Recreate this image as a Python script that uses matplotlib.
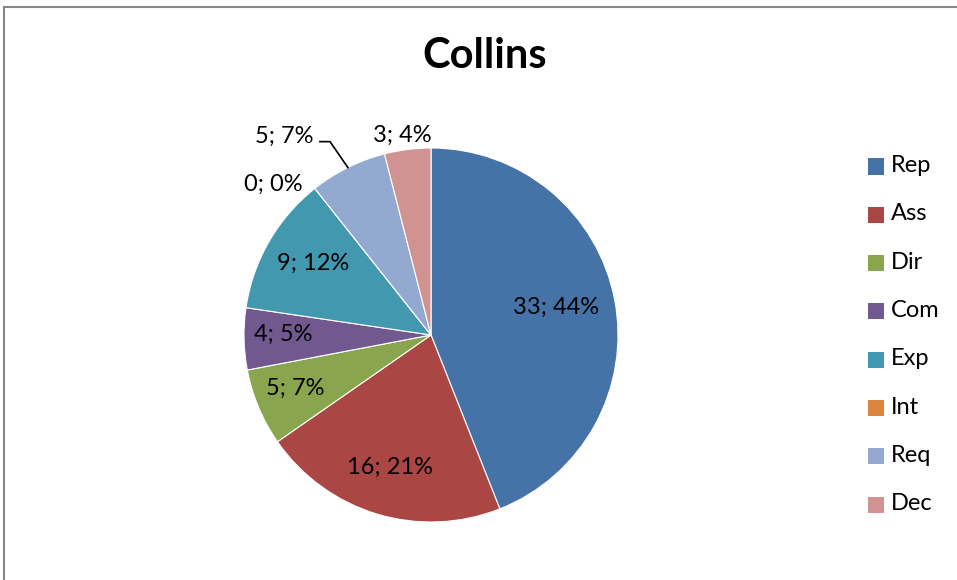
import numpy as np
import matplotlib
matplotlib.use("Agg")
import matplotlib.pyplot as plt
from matplotlib.patches import Rectangle
from matplotlib.lines import Line2D

plt.rcParams['font.family'] = ['Lato', 'DejaVu Sans']

title = "Collins"
categories = ["Rep", "Ass", "Dir", "Com", "Exp", "Int", "Req", "Dec"]
counts = [33, 16, 5, 4, 9, 0, 5, 3]
percents = [44, 21, 7, 5, 12, 0, 7, 4]
colors = ["#4572A7", "#AA4643", "#89A54E", "#71588F",
          "#4198AF", "#DB843D", "#93A9CF", "#D19392"]

W, H = 957, 580
fig = plt.figure(figsize=(W / 100, H / 100), dpi=100)

# pie placed by pixel geometry: centre (431, 335), radius 187
cx, cy, R = 431, 335, 187
ax = fig.add_axes([(cx - R) / W, (H - cy - R) / H, 2 * R / W, 2 * R / H])
wedges, _ = ax.pie(counts, colors=colors, startangle=90, counterclock=False,
                   radius=1.0, wedgeprops=dict(edgecolor="white", linewidth=0.8))
ax.set_xlim(-1, 1)
ax.set_ylim(-1, 1)
ax.set_aspect("equal")
ax.axis("off")

labels = [f"{c}; {p}%" for c, p in zip(counts, percents)]
FS = 17

# inside labels: distance from centre along the slice bisector
inside_dist = {0: 0.68, 1: 0.76, 2: 0.785, 3: 0.79, 4: 0.73}
# outside labels: text position in pie units
outside_pos = {5: (-0.842, 0.805), 6: (-0.783, 1.062), 7: (-0.155, 1.068)}

total = sum(counts)
start = 90.0
for i, c in enumerate(counts):
    sweep = 360.0 * c / total
    mid = np.deg2rad(start - sweep / 2)
    start -= sweep
    if i in inside_dist:
        d = inside_dist[i]
        ax.text(d * np.cos(mid), d * np.sin(mid) + 0.02, labels[i], ha="center",
                va="center", fontsize=FS, color="black")
    else:
        tx, ty = outside_pos[i]
        ax.text(tx, ty, labels[i], ha="center", va="center",
                fontsize=FS, color="black", clip_on=False)
        if i == 6:
            # leader line from label to the slice's outer edge
            ex, ey = np.cos(mid), np.sin(mid)
            ax.add_line(Line2D([-0.594, -0.540, ex], [1.034, 1.034, ey],
                               color="black", lw=1.2, clip_on=False))

# title
fig.text(485 / W, 1 - 56 / H, title, ha="center", va="center",
         fontsize=30, fontweight="bold", color="black")

# legend
for k, (name, col) in enumerate(zip(categories, colors)):
    y = 166.5 + k * 48.3
    fig.patches.append(Rectangle((868 / W, 1 - (y + 8) / H), 16 / W, 16 / H,
                                 transform=fig.transFigure, facecolor=col,
                                 edgecolor="none"))
    fig.text(891 / W, 1 - (y - 1) / H, name, ha="left", va="center",
             fontsize=FS, color="black")

# chart-area border (top and left edges visible)
fig.add_artist(Line2D([3.5 / W, 3.5 / W], [0, 1 - 6.5 / H],
                      transform=fig.transFigure, color="#878787", lw=1.5))
fig.add_artist(Line2D([3.5 / W, 1], [1 - 6.5 / H, 1 - 6.5 / H],
                      transform=fig.transFigure, color="#878787", lw=1.5))

fig.savefig("out.png", dpi=100, facecolor="white")
